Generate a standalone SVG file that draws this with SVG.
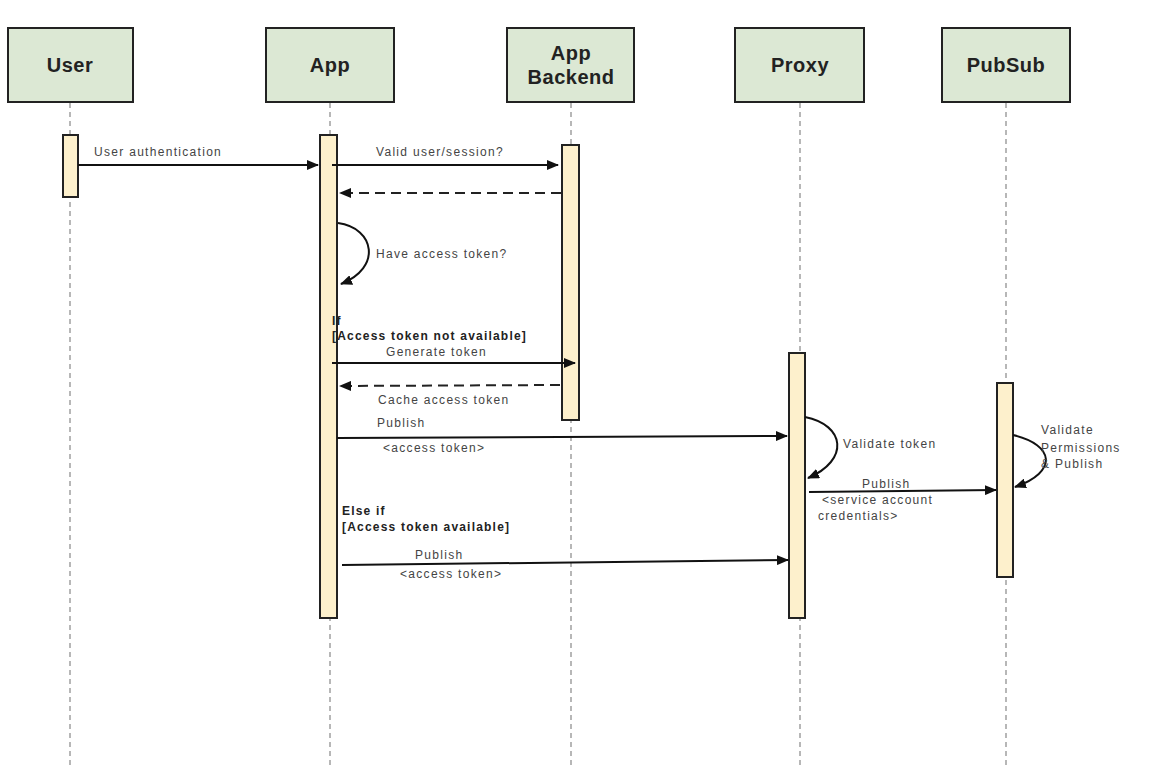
<svg xmlns="http://www.w3.org/2000/svg" width="1150" height="782" viewBox="0 0 1150 782">
  <style>
    .head { fill: #dce8d4; stroke: #222; stroke-width: 2; }
    .htext { font-family: "Liberation Sans", Arial, sans-serif; font-weight: bold; font-size: 20px; letter-spacing: 0.5px; fill: #222; text-anchor: middle; }
    .life { stroke: #888; stroke-width: 1.2; stroke-dasharray: 5 4; fill: none; }
    .act { fill: #fdf0cc; stroke: #222; stroke-width: 2; }
    .msg { stroke: #111; stroke-width: 2; fill: none; }
    .ret { stroke: #222; stroke-width: 2; fill: none; stroke-dasharray: 10 6; }
    .lbl { font-family: "Liberation Sans", Arial, sans-serif; font-size: 12px; letter-spacing: 1.3px; fill: #444; }
    .cond { font-family: "Liberation Sans", Arial, sans-serif; font-size: 12px; letter-spacing: 1.2px; font-weight: bold; fill: #222; }
  </style>
  <defs>
    <marker id="arrow" viewBox="0 0 12 10" refX="11" refY="5" markerWidth="12" markerHeight="10" markerUnits="userSpaceOnUse" orient="auto">
      <path d="M0,0 L12,5 L0,10 Z" fill="#111"/>
    </marker>
  </defs>
  <rect width="1150" height="782" fill="#fff"/>

  <!-- lifelines -->
  <g id="lifelines">
    <line class="life" x1="70" y1="103" x2="70" y2="766"/>
    <line class="life" x1="330" y1="103" x2="330" y2="766"/>
    <line class="life" x1="571" y1="103" x2="571" y2="766"/>
    <line class="life" x1="800" y1="103" x2="800" y2="766"/>
    <line class="life" x1="1006" y1="103" x2="1006" y2="766"/>
  </g>

  <!-- participants -->
  <g id="user">
    <rect class="head" x="8" y="28" width="125" height="74"/>
    <text class="htext" x="70" y="72">User</text>
    <rect class="act" x="63" y="135" width="15" height="62"/>
  </g>
  <g id="app">
    <rect class="head" x="266" y="28" width="128" height="74"/>
    <text class="htext" x="330" y="72">App</text>
    <rect class="act" x="320" y="135" width="17" height="483"/>
  </g>
  <g id="app-backend">
    <rect class="head" x="507" y="28" width="127" height="74"/>
    <text class="htext" x="571" y="60">App</text>
    <text class="htext" x="571" y="84">Backend</text>
    <rect class="act" x="562" y="145" width="17" height="275"/>
  </g>
  <g id="proxy">
    <rect class="head" x="735" y="28" width="129" height="74"/>
    <text class="htext" x="800" y="72">Proxy</text>
    <rect class="act" x="789" y="353" width="16" height="265"/>
  </g>
  <g id="pubsub">
    <rect class="head" x="942" y="28" width="128" height="74"/>
    <text class="htext" x="1006" y="72">PubSub</text>
    <rect class="act" x="997" y="383" width="16" height="194"/>
  </g>

  <!-- messages -->
  <g id="connectors">
    <line class="msg" x1="78" y1="165" x2="318" y2="165" marker-end="url(#arrow)"/>
    <line class="msg" x1="332" y1="165" x2="558" y2="165" marker-end="url(#arrow)"/>
    <line class="ret" x1="561" y1="193" x2="340" y2="193" marker-end="url(#arrow)"/>
    <path class="msg" d="M338,223 C375,228 382,268 341,284" marker-end="url(#arrow)"/>
    <line class="msg" x1="332" y1="363" x2="575" y2="363" marker-end="url(#arrow)"/>
    <line class="ret" x1="560" y1="385" x2="340" y2="386" marker-end="url(#arrow)"/>
    <line class="msg" x1="337" y1="438" x2="787" y2="436" marker-end="url(#arrow)"/>
    <path class="msg" d="M805,417 C845,425 850,460 808,478" marker-end="url(#arrow)"/>
    <line class="msg" x1="809" y1="492" x2="996" y2="490" marker-end="url(#arrow)"/>
    <path class="msg" d="M1013,435 C1055,445 1058,472 1015,487" marker-end="url(#arrow)"/>
    <line class="msg" x1="342" y1="565" x2="788" y2="560" marker-end="url(#arrow)"/>
  </g>

  <!-- labels -->
  <g id="labels">
    <text class="lbl" x="94" y="156">User authentication</text>
    <text class="lbl" x="376" y="156">Valid user/session?</text>
    <text class="lbl" x="376" y="258">Have access token?</text>
    <text class="cond" x="332" y="325">If</text>
    <text class="cond" x="332" y="340">[Access token not available]</text>
    <text class="lbl" x="386" y="356">Generate token</text>
    <text class="lbl" x="378" y="404">Cache access token</text>
    <text class="lbl" x="377" y="427">Publish</text>
    <text class="lbl" x="383" y="452">&lt;access token&gt;</text>
    <text class="lbl" x="843" y="448">Validate token</text>
    <text class="lbl" x="862" y="488">Publish</text>
    <text class="lbl" x="822" y="504">&lt;service account</text>
    <text class="lbl" x="818" y="520">credentials&gt;</text>
    <text class="lbl" x="1041" y="434">Validate</text>
    <text class="lbl" x="1041" y="452">Permissions</text>
    <text class="lbl" x="1041" y="468">&amp; Publish</text>
    <text class="cond" x="342" y="515">Else if</text>
    <text class="cond" x="342" y="531">[Access token available]</text>
    <text class="lbl" x="415" y="559">Publish</text>
    <text class="lbl" x="400" y="578">&lt;access token&gt;</text>
  </g>
</svg>
